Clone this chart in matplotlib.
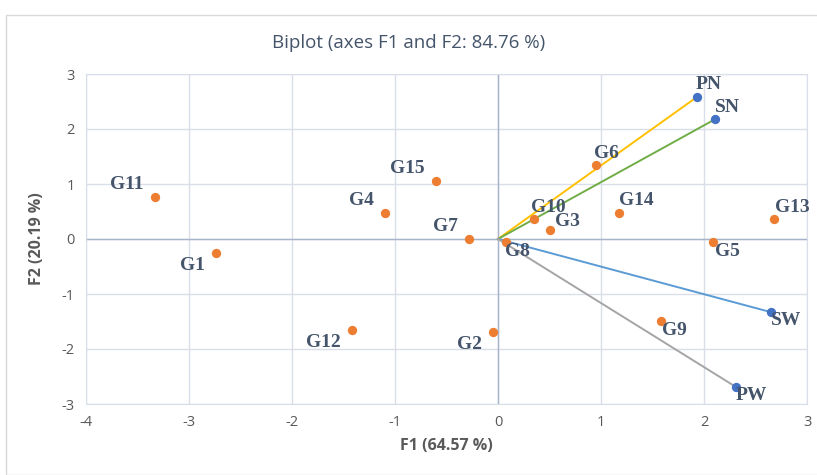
import matplotlib
matplotlib.use("Agg")
import matplotlib.pyplot as plt
from matplotlib.patches import Rectangle

plt.rcParams["axes.unicode_minus"] = False

# observations (genotypes) on F1/F2
obs_names = ["G1", "G2", "G3", "G4", "G5", "G6", "G7", "G8", "G9", "G10",
             "G11", "G12", "G13", "G14", "G15"]
obs_f1 = [-2.74, -0.05, 0.50, -1.10, 2.09, 0.95, -0.28, 0.08, 1.58, 0.35,
          -3.33, -1.42, 2.68, 1.17, -0.60]
obs_f2 = [-0.25, -1.69, 0.16, 0.47, -0.05, 1.35, 0.00, -0.05, -1.49, 0.36,
          0.76, -1.65, 0.36, 0.47, 1.05]

# variables (loadings)
var_names = ["PN", "SN", "SW", "PW"]
var_f1 = [1.93, 2.11, 2.65, 2.31]
var_f2 = [2.58, 2.18, -1.33, -2.69]
var_colors = ["#FFC000", "#70AD47", "#5B9BD5", "#A5A5A5"]

# label offsets in points (dx, dy, ha, va)
obs_offsets = {
    "G1": (-8, -3, "right", "top"), "G2": (-8, -3, "right", "top"),
    "G3": (4, 0, "left", "bottom"), "G4": (-8, 3, "right", "bottom"),
    "G5": (1, -1, "left", "top"), "G6": (-1, 2, "left", "bottom"),
    "G7": (-8, 3, "right", "bottom"), "G8": (-1, -1, "left", "top"),
    "G9": (1, -1, "left", "top"), "G10": (-2, 2, "left", "bottom"),
    "G11": (-8, 3, "right", "bottom"), "G12": (-8, -3, "right", "top"),
    "G13": (1, 2, "left", "bottom"), "G14": (0, 3, "left", "bottom"),
    "G15": (-8, 3, "right", "bottom"),
}
var_offsets = {
    "PN": (-1, 3, "left", "bottom"), "SN": (0, 2, "left", "bottom"),
    "SW": (0, 0, "left", "top"), "PW": (0, 0, "left", "top"),
}

label_color = "#44546A"
text_color = "#595959"

fig = plt.figure(figsize=(8.17, 4.75), dpi=100)
fig.patches.append(Rectangle((6 / 817, 0), 1.2, 1 - 15 / 475, transform=fig.transFigure,
                             fill=False, edgecolor="#D9D9D9", linewidth=1.0))
ax = fig.add_axes([86 / 817, 71 / 475, 721 / 817, 330 / 475])

ax.set_xlim(-4, 3)
ax.set_ylim(-3, 3)
ax.set_xticks(range(-4, 4))
ax.set_yticks(range(-3, 4))
ax.grid(True, color="#D9DEE8", linewidth=1.0)
ax.set_axisbelow(True)
for s in ax.spines.values():
    s.set_color("#D9DEE8")
ax.axhline(0, color="#A6B4C8", linewidth=1.0, zorder=1)
ax.axvline(0, color="#A6B4C8", linewidth=1.0, zorder=1)
ax.tick_params(length=0, labelsize=10.5, colors=text_color, pad=8)
for lab in ax.get_xticklabels() + ax.get_yticklabels():
    lab.set_fontfamily("Open Sans")

# loading vectors from origin
for x, y, c in zip(var_f1, var_f2, var_colors):
    ax.plot([0, x], [0, y], color=c, linewidth=1.4, zorder=2)

ax.scatter(obs_f1, obs_f2, s=45, color="#ED7D31", zorder=3, linewidths=0)
ax.scatter(var_f1, var_f2, s=45, color="#4472C4", zorder=3, linewidths=0)

for n, x, y in zip(obs_names, obs_f1, obs_f2):
    dx, dy, ha, va = obs_offsets[n]
    ax.annotate(n, (x, y), xytext=(dx, dy), textcoords="offset points", ha=ha, va=va,
                fontsize=14, fontweight="bold", family="Liberation Serif",
                color=label_color, zorder=4)
for n, x, y in zip(var_names, var_f1, var_f2):
    dx, dy, ha, va = var_offsets[n]
    ax.annotate(n, (x, y), xytext=(dx, dy), textcoords="offset points", ha=ha, va=va,
                fontsize=14, fontweight="bold", family="Liberation Serif",
                color=label_color, zorder=4)

ax.set_xlabel("F1 (64.57 %)", fontsize=11.5, fontweight="bold", color=text_color,
              family="Open Sans", labelpad=6)
ax.set_ylabel("F2 (20.19 %)", fontsize=11.5, fontweight="bold", color=text_color,
              family="Open Sans", labelpad=12)
fig.text(0.5, 1 - 43 / 475, "Biplot (axes F1 and F2: 84.76 %)", ha="center", va="center",
         fontsize=13.5, color=label_color, family="Open Sans")

fig.savefig("out.png", dpi=100)
